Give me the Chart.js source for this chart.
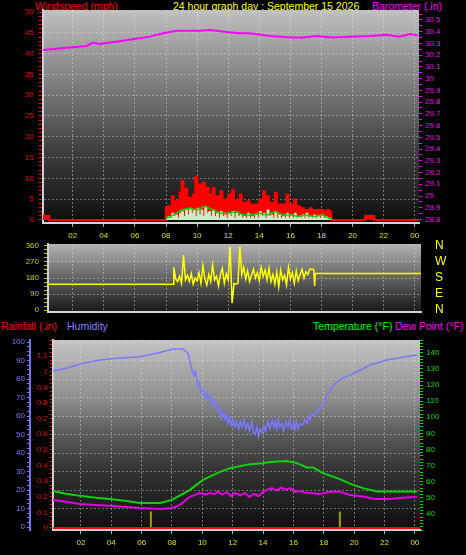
<!DOCTYPE html>
<html>
<head>
<meta charset="utf-8">
<script src="https://cdn.jsdelivr.net/npm/chart.js@4.4.1/dist/chart.umd.min.js"></script>
<style>
  body { margin: 0; background: #000; width: 466px; height: 555px; overflow: hidden; position: relative;
         font-family: "Liberation Sans", Arial, sans-serif; }
  .lbl { position: absolute; font-size: 10.5px; line-height: 12px; white-space: nowrap; }
  .box { position: absolute; left: 0; }
</style>
</head>
<body>
<div class="lbl" style="left:35px;top:0;color:#ff0000">Windspeed (mph)</div>
<div class="lbl" style="left:173px;top:0;color:#ffff00">24 hour graph day : September 15 2026</div>
<div class="lbl" style="left:372px;top:0;color:#ff00ff">Barometer (.in)</div>
<div class="lbl" style="left:1px;top:320px;color:#ff0000">Rainfall (.in)</div>
<div class="lbl" style="left:67px;top:320px;color:#8080ff">Humidity</div>
<div class="lbl" style="left:313px;top:320px;color:#00ff00">Temperature (°F)</div>
<div class="lbl" style="left:395px;top:320px;color:#ff00ff">Dew Point (°F)</div>
<canvas id="wind" class="box" style="top:0" width="466" height="242"></canvas>
<canvas id="dir" class="box" style="top:238px" width="466" height="80"></canvas>
<canvas id="climate" class="box" style="top:335px" width="466" height="220"></canvas>
<script>
// hour axis
var hourTicks = [2, 4, 6, 8, 10, 12, 14, 16, 18, 20, 22, 24];
var hourLabels = ['02', '04', '06', '08', '10', '12', '14', '16', '18', '20', '22', '00'];

// wind (mph): quiet periods and the active period sampled every 7.5 min from 08:00
var gustQuietHours = [0, 0.5, 20.8, 21.4, 24.3];
var gustQuietMph = [1, 0, 1, 0, 0];
var activeStart = 8, activeStep = 0.125;
var gustActive = [
  3.0, 3.3, 2.4, 5.7, 3.0, 4.5, 2.8, 6.5,
  9.3, 4.0, 7.5, 3.3, 5.3, 3.0, 6.1, 10.3,
  4.5, 8.5, 3.7, 8.9, 5.0, 7.7, 4.0, 6.1,
  7.7, 3.7, 5.7, 4.1, 6.9, 3.3, 4.9, 3.0,
  6.1, 3.7, 7.1, 3.3, 4.5, 2.8, 6.1, 3.0,
  4.1, 2.8, 4.5, 2.4, 3.7, 2.8, 3.7, 2.4,
  4.9, 3.0, 6.9, 3.3, 5.7, 2.8, 4.1, 2.4,
  6.5, 3.0, 3.7, 2.4, 3.7, 2.8, 6.1, 3.0,
  3.7, 2.4, 4.9, 2.8, 3.3, 2.4, 2.8, 2.0,
  2.4, 1.6, 2.8, 2.0, 2.4, 2.0, 2.4, 1.6,
  2.4, 2.0, 2.0, 2.4, 2.0, 0
];
var speedActive = [
  0.4, 0.8, 0.4, 1.6, 0.8, 1.2, 0.4, 1.6,
  2.0, 0.8, 2.4, 1.2, 2.8, 1.6, 2.4, 0.8,
  2.8, 1.2, 2.4, 0.8, 3.0, 1.6, 2.0, 0.8,
  2.4, 0.8, 1.6, 0.4, 2.0, 0.8, 1.2, 0.4,
  1.6, 0.8, 2.0, 0.4, 1.6, 0.8, 1.2, 0.4,
  0.8, 0.4, 1.6, 0.4, 0.8, 0.4, 1.2, 0.4,
  2.0, 0.8, 1.6, 0.4, 2.4, 0.8, 1.2, 0.4,
  2.0, 0.4, 1.2, 0.4, 0.8, 0.4, 1.6, 0.4,
  1.2, 0.4, 1.6, 0.4, 0.8, 0.4, 1.2, 0.4,
  1.6, 0.4, 0.8, 0.4, 1.2, 0.4, 0.8, 0.4,
  1.2, 0.4, 0.8, 0.4, 0.4, 0
];
var avgHours = [8.0, 8.5, 9.0, 9.5, 10.0, 10.5, 11.0, 11.5, 12.0, 12.5, 13.0,
  13.5, 14.0, 14.5, 15.0, 15.5, 16.0, 16.5, 17.0, 17.5, 18.0, 18.5, 18.7];
var avgMph = [0.3, 1.2, 2.4, 2.8, 2.4, 3.3, 2.4, 1.6, 1.6, 2.0, 1.2,
  1.2, 1.6, 1.2, 2.0, 1.2, 1.2, 0.8, 1.2, 0.8, 1.2, 0.4, 0];

// barometer (.in)
var baroHours = [0.06, 1.6, 2.9, 3.3, 3.7, 4.8, 5.85, 6.95, 7.8, 8.7, 10.2, 10.8, 11.9,
  12.7, 13.4, 14.7, 16.1, 16.8, 17.7, 18.7, 19.8, 21.1, 22.2, 23.0, 23.7, 24.2];
var baroIn = [30.244, 30.264, 30.279, 30.307, 30.296, 30.315, 30.336, 30.358, 30.387, 30.409,
  30.409, 30.415, 30.398, 30.387, 30.387, 30.364, 30.350, 30.350, 30.364, 30.350, 30.358,
  30.364, 30.375, 30.358, 30.381, 30.367];

// wind direction (degrees): steady parts and the gusty period every 7.5 min from 08:30
var dirQuietHours = [0, 8.49, 17.56, 17.6, 24.5];
var dirQuietDeg = [145, 145, 135, 205, 205];
var dirStart = 8.5, dirStep = 0.125;
var dirActive = [
  240, 175, 160, 190, 150, 309, 170, 195,
  160, 205, 145, 180, 165, 210, 150, 250,
  175, 140, 200, 160, 253, 170, 190, 135,
  200, 234, 150, 205, 170, 356, 39, 150,
  145, 150, 356, 200, 240, 175, 220, 160,
  195, 230, 180, 210, 165, 240, 190, 225,
  170, 235, 160, 200, 145, 215, 130, 225,
  170, 195, 140, 240, 175, 210, 150, 220,
  165, 200, 230, 180, 215, 200, 229, 229,
  229
];

// humidity (%)
var humHours = [0.16, 1.08, 2.13, 3.25, 4.37, 5.89, 7.21, 8.06, 8.72, 9.05, 9.32, 9.45, 9.55,
  9.71, 9.8, 9.9, 10.04, 10.15, 10.25, 10.37, 10.5, 10.6, 10.7, 10.83, 10.95, 11.05, 11.16,
  11.26, 11.36, 11.5, 11.6, 11.69, 11.8, 11.9, 12.02, 12.15, 12.25, 12.4, 12.5, 12.61, 12.75,
  12.85, 13.0, 13.1, 13.27, 13.37, 13.47, 13.6, 13.7, 13.8, 13.93, 14.05, 14.15, 14.32, 14.45,
  14.6, 14.7, 14.78, 14.9, 15.0, 15.1, 15.24, 15.35, 15.5, 15.64, 15.75, 15.85, 16.0, 16.1,
  16.2, 16.3, 16.45, 16.6, 16.76, 16.9, 17.0, 17.1, 17.22, 17.35, 17.5, 17.62, 17.75, 17.85,
  18.0, 18.08, 18.2, 18.35, 18.54, 18.7, 18.87, 19.26, 20.18, 21.04, 22.16, 23.01, 24.13];
var humPct = [84.3, 86, 88.5, 90.3, 91.2, 92.1, 94.4, 96.2, 96.2, 94, 85, 82, 84,
  76, 78, 73, 74, 70, 73, 69, 71, 66, 69, 65, 67, 62, 64,
  59, 62, 58, 61, 56, 59, 55, 58, 54, 57, 53, 57, 54, 58,
  53, 56, 52, 57, 51, 50, 54, 49, 53, 51, 55, 52, 57, 53,
  58, 54, 57, 53, 58, 54, 56, 52, 57, 54, 58, 53, 56, 53,
  57, 53, 56, 55, 58, 56, 60, 58, 61, 60, 63, 62, 65, 64,
  67, 68, 71, 73, 76, 77, 78.5, 80.5, 83.8, 87.6, 90.3, 91.5, 93];

// temperature and dew point (F)
var tempHours = [0.16, 1.0, 1.94, 3.0, 3.91, 5.0, 5.89, 7.21, 8.0, 9.18, 10.04, 11.16, 11.82,
  13.13, 14.0, 14.45, 15.57, 16.23, 16.89, 17.29, 17.95, 19.06, 19.92, 20.58, 21.5, 24.14];
var tempF = [54.3, 52.5, 51.2, 50.0, 49.3, 48.0, 46.8, 46.8, 48.7, 54.9, 61.1, 66.1, 68.4,
  70.9, 71.5, 72.3, 72.9, 71.5, 68.8, 68.8, 65.3, 61.6, 58, 56, 53.9, 53.9];
var dewHours = [0.16, 1.0, 1.94, 3.0, 3.91, 5.0, 5.89, 7.21, 8.0, 8.52, 9.18, 9.84, 10.2, 10.5,
  10.83, 11.0, 11.3, 11.6, 11.9, 12.2, 12.5, 12.8, 13.1, 13.4, 13.7, 14.0, 14.3, 14.6, 14.9,
  15.2, 15.5, 15.8, 16.1, 16.4, 16.7, 17.09, 17.75, 18.4, 19.06, 19.72, 20.7, 21.36, 22.35,
  23.0, 24.14];
var dewF = [48.7, 47.5, 46.2, 45.6, 45.0, 44.3, 43.7, 43.1, 43.7, 45.6, 50.6, 53.0, 52.0, 53.0,
  52.2, 54.0, 52.0, 53.5, 51.0, 53.0, 51.5, 53.0, 50.5, 52.5, 51.0, 53.7, 55.0, 56.0, 54.5,
  56.5, 55.0, 56.0, 53.7, 54.3, 53.3, 53.0, 52.4, 53.7, 53.7, 51.8, 50.6, 49.3, 49.3,
  49.9, 50.6];

// rainfall (.in) and the two event markers
var rainHours = [0, 24.4];
var rainIn = [0, 0];
var markerHours = [6.61, 19.06];
var markerIn = 0.105;

// axis labels
var windTicks = [0, 5, 10, 15, 20, 25, 30, 35, 40, 45, 50];
var baroTicks = [28.8, 28.9, 29, 29.1, 29.2, 29.3, 29.4, 29.5, 29.6, 29.7, 29.8, 29.9, 30,
  30.1, 30.2, 30.3, 30.4, 30.5];
var dirTicks = [0, 90, 180, 270, 360];
var compass = ['N', 'E', 'S', 'W', 'N'];
var humTicks = [0, 10, 20, 30, 40, 50, 60, 70, 80, 90, 100];
var rainTicks = [0, 0.1, 0.2, 0.3, 0.4, 0.5, 0.6, 0.7, 0.8, 0.9, 1, 1.1];
var tempTicks = [40, 50, 60, 70, 80, 90, 100, 110, 120, 130, 140];

function pts(xs, ys) {
  return xs.map(function(x, i) { return { x: x, y: ys[i] }; });
}
function run(start, step, ys) {
  return ys.map(function(y, i) { return { x: start + i * step, y: y }; });
}
function byX(a, b) { return a.x - b.x; }
function marks(from, to, step) {
  var out = [];
  for (var i = 0; from + i * step <= to + 1e-9; i++) out.push(Math.round((from + i * step) * 1000) / 1000);
  return out;
}

Chart.defaults.font.family = '"Liberation Sans", Arial, sans-serif';
Chart.defaults.font.size = 8;
Chart.defaults.animation = false;
Chart.defaults.responsive = false;
Chart.defaults.plugins.legend.display = false;
Chart.defaults.plugins.tooltip.enabled = false;
Chart.defaults.elements.point.radius = 0;
Chart.defaults.elements.line.tension = 0;

// grey gradient behind each plot area
var plotShade = {
  id: 'plotShade',
  beforeDraw: function(chart, args, opts) {
    var a = chart.chartArea, ctx = chart.ctx;
    var g = ctx.createLinearGradient(0, a.top, 0, a.bottom);
    opts.stops.forEach(function(s) { g.addColorStop(s[0], s[1]); });
    ctx.save();
    ctx.fillStyle = g;
    ctx.fillRect(a.left, a.top, a.right - a.left, a.bottom - a.top);
    ctx.restore();
  }
};

function hourAxis(min, max, height, showLabels) {
  return {
    type: 'linear', min: min, max: max,
    afterFit: function(s) { s.height = height; s.paddingLeft = 0; s.paddingRight = 0; },
    afterBuildTicks: function(s) { s.ticks = hourTicks.map(function(v) { return { value: v }; }); },
    ticks: {
      display: showLabels, color: '#e0e000', padding: 4, autoSkip: false, maxRotation: 0,
      callback: function(v) { return hourLabels[hourTicks.indexOf(v)]; }
    },
    grid: { color: 'rgba(225,225,225,0.45)', tickColor: '#b0b0b0', tickLength: 4, drawTicks: showLabels },
    border: { color: '#d0d8d0', width: 2, dash: [2, 2] }
  };
}

function valueAxis(o) {
  var labelOf = new Map(o.labels.map(function(v, i) { return [v, o.text ? o.text[i] : String(v)]; }));
  return {
    type: 'linear', position: o.side, min: o.min, max: o.max, weight: o.weight || 0,
    afterFit: function(s) { s.width = o.width; s.paddingTop = 0; s.paddingBottom = 0; },
    afterBuildTicks: function(s) { s.ticks = marks(o.from, o.to, o.step).map(function(v) { return { value: v }; }); },
    ticks: {
      color: o.color, padding: o.pad, autoSkip: false, font: o.font,
      callback: function(v) { return labelOf.has(v) ? labelOf.get(v) : ''; }
    },
    grid: {
      drawOnChartArea: !!o.grid, drawTicks: o.tick > 0, tickLength: o.tick || 0, tickColor: o.color,
      color: function(c) {
        return (o.grid && c.tick && o.grid.indexOf(c.tick.value) >= 0) ? 'rgba(225,225,225,0.4)' : 'transparent';
      }
    },
    border: { display: !!o.border, color: o.border || '#000', width: 2, dash: [2, 2] }
  };
}

// Panel 1: wind speed and barometer
new Chart(document.getElementById('wind'), {
  type: 'line',
  data: {
    datasets: [
      { data: pts(baroHours, baroIn), yAxisID: 'yBaro', borderColor: '#ff00ff', borderWidth: 2 },
      { data: pts(avgHours, avgMph), yAxisID: 'y', borderColor: '#00dd00', borderWidth: 1.5 },
      { data: run(activeStart, activeStep, speedActive),
        yAxisID: 'y', stepped: true, fill: 'origin', borderColor: '#c8f0c8', backgroundColor: '#c8f0c8', borderWidth: 1 },
      { data: run(activeStart, activeStep, gustActive).concat(pts(gustQuietHours, gustQuietMph)).sort(byX),
        yAxisID: 'y', stepped: true, fill: 'origin', borderColor: '#ff0000', backgroundColor: '#ff0000', borderWidth: 2 }
    ]
  },
  options: {
    layout: { padding: { top: 10, left: 0, right: 0, bottom: 0 } },
    plugins: { plotShade: { stops: [[0, '#c0c0c0'], [0.49, '#626262'], [0.66, '#3e3e3e'], [0.9, '#1e1e1e'], [1, '#0a0a0a']] } },
    scales: {
      x: hourAxis(0.09, 24.27, 19, true),
      y: valueAxis({ side: 'left', min: -0.75, max: 50.5, width: 43, from: 0, to: 50, step: 1,
        labels: windTicks, color: '#ff0000', pad: 5, tick: 4, grid: windTicks.slice(1), border: '#d0d0d0' }),
      yBaro: valueAxis({ side: 'right', min: 28.77, max: 30.585, width: 47, from: 28.8, to: 30.55, step: 0.05,
        labels: baroTicks, color: '#ff00ff', pad: 3, tick: 3 })
    }
  },
  plugins: [plotShade]
});

// Panel 2: wind direction
new Chart(document.getElementById('dir'), {
  type: 'line',
  data: {
    datasets: [
      { data: run(dirStart, dirStep, dirActive).concat(pts(dirQuietHours, dirQuietDeg)).sort(byX),
        yAxisID: 'y', borderColor: '#ffff00', borderWidth: 1.5 }
    ]
  },
  options: {
    layout: { padding: { top: 6, left: 0, right: 0, bottom: 0 } },
    plugins: { plotShade: { stops: [[0, '#b4b4b4'], [0.5, '#626262'], [1, '#181818']] } },
    scales: {
      x: hourAxis(0.41, 24.4, 6, false),
      y: valueAxis({ side: 'left', min: -11, max: 371, width: 48, from: 0, to: 360, step: 22.5,
        labels: dirTicks, color: '#c8c800', pad: 5, tick: 4, grid: [90, 180, 270], border: '#d0d0d0' }),
      yPoint: valueAxis({ side: 'right', min: -11, max: 371, width: 45, from: 0, to: 360, step: 90,
        labels: dirTicks, text: compass, color: '#ffff00', pad: 14, tick: 0, font: { size: 12 } })
    }
  },
  plugins: [plotShade]
});

// Panel 3: rainfall, humidity, temperature, dew point
var markerPts = [];
markerHours.forEach(function(h) {
  markerPts.push({ x: h, y: 0 }, { x: h, y: markerIn }, { x: h + 0.01, y: null });
});
new Chart(document.getElementById('climate'), {
  type: 'line',
  data: {
    datasets: [
      { data: pts(rainHours, rainIn), yAxisID: 'yRain', borderColor: '#ff0000', borderWidth: 2 },
      { data: markerPts, yAxisID: 'yRain', borderColor: '#a0a000', borderWidth: 2 },
      { data: pts(humHours, humPct), yAxisID: 'yHum', borderColor: '#7878ff', borderWidth: 1.5 },
      { data: pts(tempHours, tempF), yAxisID: 'yTemp', borderColor: '#10d010', borderWidth: 2 },
      { data: pts(dewHours, dewF), yAxisID: 'yTemp', borderColor: '#e000e0', borderWidth: 2 }
    ]
  },
  options: {
    layout: { padding: { top: 5, left: 0, right: 0, bottom: 0 } },
    plugins: { plotShade: { stops: [[0, '#c4c4c4'], [0.32, '#8c8c8c'], [0.47, '#606060'], [0.68, '#353535'], [1, '#0e0e0e']] } },
    scales: {
      x: hourAxis(0.16, 24.34, 25, true),
      yHum: valueAxis({ side: 'left', weight: 1, min: -1.6, max: 101.1, width: 30, from: 0, to: 100, step: 2.5,
        labels: humTicks, color: '#7878ff', pad: 2, tick: 3, grid: humTicks.slice(1), border: '#7070ff' }),
      yRain: valueAxis({ side: 'left', weight: 0, min: -0.013, max: 1.203, width: 23, from: 0, to: 1.2, step: 0.025,
        labels: rainTicks, color: '#ff0000', pad: 2, tick: 3, border: '#d0d0d0' }),
      yTemp: valueAxis({ side: 'right', min: 30, max: 148, width: 46, from: 30, to: 148, step: 2,
        labels: tempTicks, color: '#00e000', pad: 3, tick: 3 })
    }
  },
  plugins: [plotShade]
});
</script>
</body>
</html>
